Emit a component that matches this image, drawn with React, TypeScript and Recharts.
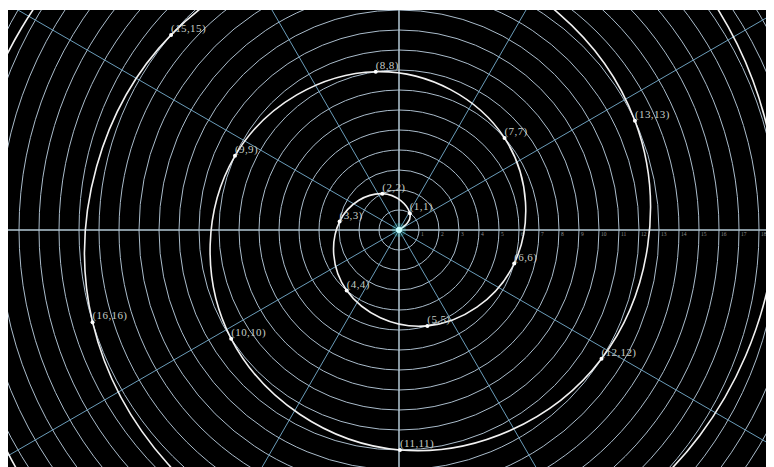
import React from 'react'
import {
  RadarChart, PolarGrid, PolarAngleAxis, PolarRadiusAxis, Radar,
  ComposedChart, XAxis, YAxis, Line, LabelList, ReferenceLine, ReferenceDot,
} from 'recharts'

// Archimedean spiral r = θ, sampled at whole radians
const spiralTheta = [0, 1, 2, 3, 4, 5, 6, 7, 8, 9, 10, 11, 12, 13, 14, 15, 16, 17, 18, 19, 20, 21, 22, 23, 24, 25]
const spiralR = [0, 1, 2, 3, 4, 5, 6, 7, 8, 9, 10, 11, 12, 13, 14, 15, 16, 17, 18, 19, 20, 21, 22, 23, 24, 25]

// radius rings, labelled along the positive x axis
const ringTicks = [1, 2, 3, 4, 5, 6, 7, 8, 9, 10, 11, 12, 13, 14, 15, 16, 17, 18, 19, 20, 21, 22, 23]

// spokes every 30°
const spokeAngles = ['0°', '30°', '60°', '90°', '120°', '150°', '180°', '210°', '240°', '270°', '300°', '330°']

const W = 766
const H = 457
const X_DOMAIN: [number, number] = [-19.55, 18.75]
const Y_DOMAIN: [number, number] = [-11.85, 11]
const R_MAX = 23

// polar grid shares the cartesian unit so rings line up with the spiral
const pxPerUnit = W / (X_DOMAIN[1] - X_DOMAIN[0])
const polarCx = (0 - X_DOMAIN[0]) * pxPerUnit
const polarCy = (Y_DOMAIN[1] - 0) * (H / (Y_DOMAIN[1] - Y_DOMAIN[0]))

const spokeData = spokeAngles.map((deg) => ({ deg, v: 0 }))

const spiralData = spiralTheta.map((t, i) => ({
  n: t,
  x: spiralR[i] * Math.cos(t),
  y: spiralR[i] * Math.sin(t),
  label: `(${t},${spiralR[i]})`,
}))

const serif = "'Liberation Serif', 'DejaVu Serif', serif"

// eslint-disable-next-line @typescript-eslint/no-explicit-any
const RingTick = (props: any) => {
  const { x, y, payload } = props
  // rings past the right edge keep their circle but get no number
  if (!payload || payload.value <= 0 || x + 10 > W) return <g />
  return (
    <text x={x + 2} y={y + 6} fontSize={5.5} fill="#8c8c8c" fontFamily={serif}>
      {payload.value}
    </text>
  )
}

// eslint-disable-next-line @typescript-eslint/no-explicit-any
const SpiralDot = (props: any) => {
  const { cx, cy, payload, index } = props
  if (!payload || payload.n === 0) return <g key={`d-${index}`} />
  return <circle key={`d-${index}`} cx={cx} cy={cy} r={2} fill="#ffffff" />
}

// eslint-disable-next-line @typescript-eslint/no-explicit-any
const PointLabel = (props: any) => {
  const x = props.x ?? props.viewBox?.x
  const y = props.y ?? props.viewBox?.y
  const { value } = props
  if (value === '(0,0)' || x == null || y == null) return <g />
  // only points inside the frame are annotated
  if (x < 0 || x + 34 > W || y < 12 || y > H) return <g />
  return (
    <text x={x} y={y - 3} fontSize={11} letterSpacing={0.4} fill="#c6cec6" fontFamily={serif}>
      {value}
    </text>
  )
}

export default function App() {
  return (
    <div style={{ position: 'relative', width: W, height: H + 2 }}>
      <div style={{ position: 'absolute', top: 2, left: 0, width: W, height: H, background: '#000' }}>
        <div style={{ position: 'absolute', top: 0, left: 0 }}>
          <RadarChart
            width={W}
            height={H}
            data={spokeData}
            cx={polarCx}
            cy={polarCy}
            outerRadius={R_MAX * pxPerUnit}
            margin={{ top: 0, right: 0, bottom: 0, left: 0 }}
          >
            <PolarGrid gridType="circle" radialLines={false} stroke="#aabccb" strokeWidth={1} />
            <PolarGrid gridType="circle" polarRadius={[]} stroke="#6a9cb9" strokeWidth={1} />
            <PolarAngleAxis dataKey="deg" tick={false} axisLine={false} tickLine={false} />
            <PolarRadiusAxis
              angle={0}
              type="number"
              domain={[0, R_MAX]}
              ticks={ringTicks}
              tickCount={R_MAX + 1}
              axisLine={false}
              tickLine={false}
              tick={RingTick}
            />
            <Radar dataKey="v" stroke="none" fill="none" isAnimationActive={false} />
          </RadarChart>
        </div>
        <div style={{ position: 'absolute', top: 0, left: 0 }}>
          <ComposedChart width={W} height={H} data={spiralData} margin={{ top: 0, right: 0, bottom: 0, left: 0 }}>
            <XAxis dataKey="x" type="number" domain={X_DOMAIN} allowDataOverflow hide />
            <YAxis type="number" domain={Y_DOMAIN} allowDataOverflow hide />
            <ReferenceLine y={0} stroke="#d8dee2" strokeWidth={1} />
            <ReferenceLine x={0} stroke="#d8dee2" strokeWidth={1} />
            <ReferenceDot x={0} y={0} r={7} fill="#44ffff" fillOpacity={0.2} stroke="none" />
            <ReferenceDot x={0} y={0} r={3} fill="#c8ffff" stroke="none" />
            <Line
              type="natural"
              dataKey="y"
              stroke="#f2f2f2"
              strokeWidth={1.6}
              dot={SpiralDot}
              activeDot={false}
              isAnimationActive={false}
            >
              <LabelList dataKey="label" content={PointLabel} />
            </Line>
          </ComposedChart>
        </div>
      </div>
    </div>
  )
}
